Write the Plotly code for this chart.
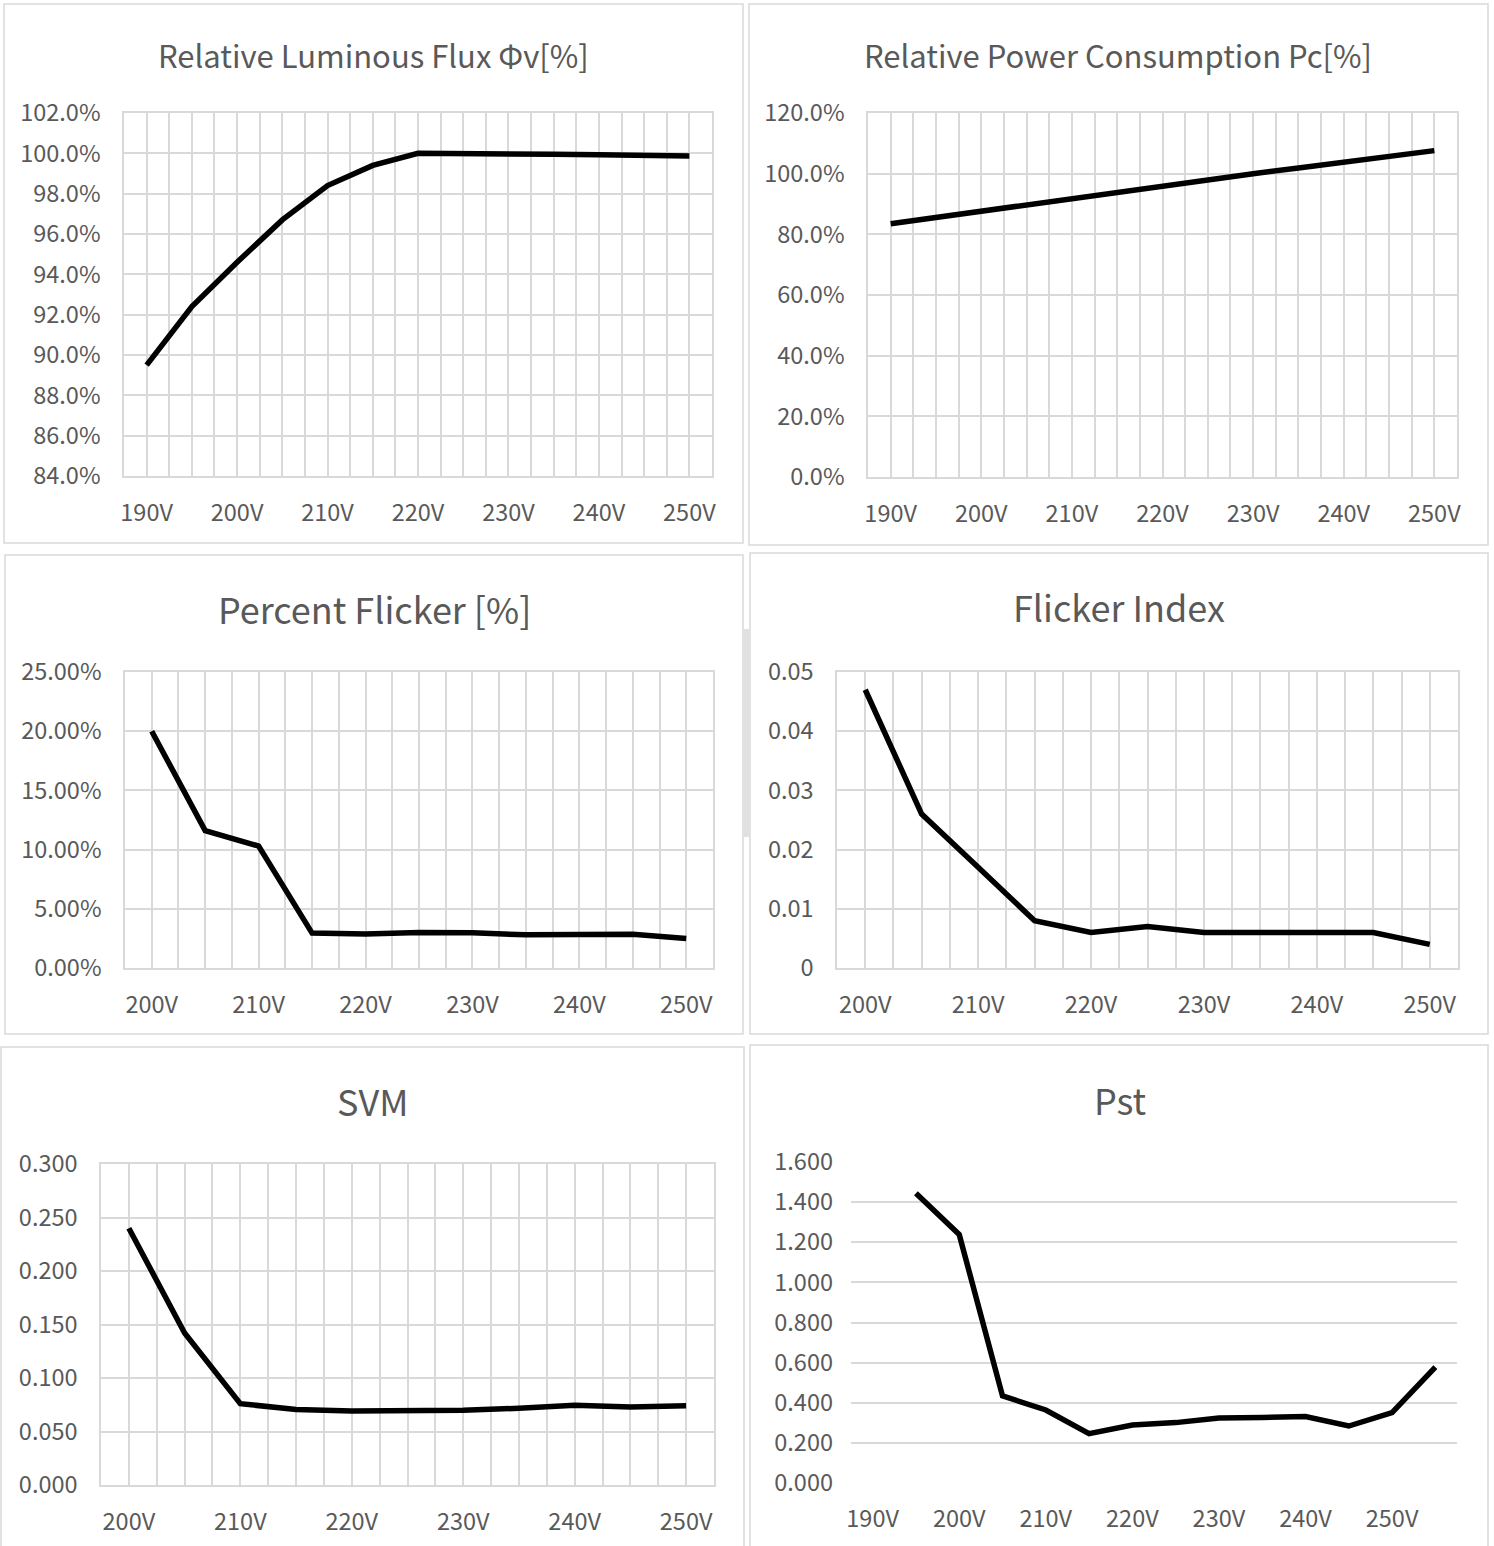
import plotly.graph_objects as go

# ---------------- data ----------------
volts_190_250 = [190, 195, 200, 205, 210, 215, 220, 225, 230, 235, 240, 245, 250]
volts_200_250 = [200, 205, 210, 215, 220, 225, 230, 235, 240, 245, 250]
volts_pst = [195, 200, 205, 210, 215, 220, 225, 230, 235, 240, 245, 250, 255]

tick_190_250 = [190, 200, 210, 220, 230, 240, 250]
tick_200_250 = [200, 210, 220, 230, 240, 250]
tick_labels_190 = ["190V", "200V", "210V", "220V", "230V", "240V", "250V"]
tick_labels_200 = ["200V", "210V", "220V", "230V", "240V", "250V"]

luminous_flux = [89.5, 92.4, 94.6, 96.7, 98.4, 99.4, 100.0, 100.0, 100.0, 99.95, 99.93, 99.87, 99.87]
power_consumption = [83.5, 85.6, 87.6, 89.7, 91.7, 93.7, 95.8, 97.9, 100.0, 101.9, 103.8, 105.7, 107.6]
percent_flicker = [20.0, 11.6, 10.3, 2.95, 2.87, 3.0, 2.98, 2.8, 2.82, 2.85, 2.5]
flicker_index = [0.047, 0.026, 0.017, 0.008, 0.006, 0.007, 0.006, 0.006, 0.006, 0.006, 0.004]
svm = [0.240, 0.142, 0.076, 0.0705, 0.0692, 0.0692, 0.0698, 0.0717, 0.0745, 0.0730, 0.0740]
pst = [1.444, 1.239, 0.434, 0.364, 0.246, 0.289, 0.301, 0.324, 0.327, 0.331, 0.284, 0.351, 0.578]

titles = ["Relative Luminous Flux \u03a6v[%]", "Relative Power Consumption Pc[%]",
          "Percent Flicker [%]", "Flicker Index", "SVM", "Pst"]

# ---------------- styling ----------------
W, H = 1494, 1546
FONT = "Noto Sans CJK KR, Noto Sans, sans-serif"
TXT = "#595959"
GRID = "#d9d9d9"
TICK_SIZE = 23.5


def fx(x):
    return x / W


def fy(y):
    return 1 - y / H


# plot areas in pixels: (left, right, top, bottom)
areas = [
    (124, 712, 113, 476),
    (868, 1457, 113, 477),
    (125, 713, 672, 968),
    (837, 1458, 672, 968),
    (101, 714, 1164, 1485),
    (851, 1457, 1162, 1483),
]
# panel boxes
boxes = [
    (4, 743, 4, 543),
    (749, 1488, 4, 545),
    (5, 743, 555, 1034),
    (750, 1488, 553, 1034),
    (1, 744, 1047, 1560),
    (750, 1488, 1045, 1560),
]
title_pos = [(373, 54, 31), (1118, 54, 31), (374, 608, 36), (1119, 606, 36), (372, 1100, 36), (1120, 1099, 36)]

series = [
    (volts_190_250, luminous_flux),
    (volts_190_250, power_consumption),
    (volts_200_250, percent_flicker),
    (volts_200_250, flicker_index),
    (volts_200_250, svm),
    (volts_pst, pst),
]
xranges = [(187.5, 252.5), (187.5, 252.5), (197.5, 252.5), (197.5, 252.5), (197.5, 252.5), (187.5, 257.5)]
xticks = [(tick_190_250, tick_labels_190), (tick_190_250, tick_labels_190),
          (tick_200_250, tick_labels_200), (tick_200_250, tick_labels_200),
          (tick_200_250, tick_labels_200), (tick_190_250, tick_labels_190)]
xstandoff = [15, 15, 15, 15, 15, 19]
yaxes_cfg = [
    dict(range=[84, 102], dtick=2, tickformat=".1f", ticksuffix="%"),
    dict(range=[0, 120], dtick=20, tickformat=".1f", ticksuffix="%"),
    dict(range=[0, 25], dtick=5, tickformat=".2f", ticksuffix="%"),
    dict(range=[0, 0.05], dtick=0.01),
    dict(range=[0, 0.3], dtick=0.05, tickformat=".3f"),
    dict(range=[0, 1.6], dtick=0.2, tickformat=".3f"),
]

fig = go.Figure()
layout = dict(
    width=W, height=H, autosize=False,
    margin=dict(l=0, r=0, t=0, b=0, pad=0, autoexpand=False),
    paper_bgcolor="white", plot_bgcolor="white", showlegend=False,
    font=dict(family=FONT, color=TXT, size=TICK_SIZE),
)
shapes = []
annotations = []

for i in range(6):
    n = "" if i == 0 else str(i + 1)
    xa, ya = "x" + n, "y" + n
    xs, ys = series[i]
    fig.add_trace(go.Scatter(x=xs, y=ys, mode="lines", xaxis=xa, yaxis=ya,
                             line=dict(color="black", width=5.5), hoverinfo="skip"))
    l, r, t, b = areas[i]
    is_pst = (i == 5)
    layout["xaxis" + n] = dict(
        domain=[fx(l), fx(r)], anchor=ya, range=list(xranges[i]), automargin=False,
        tickmode="array", tickvals=xticks[i][0], ticktext=xticks[i][1],
        showgrid=not is_pst, gridcolor=GRID, gridwidth=1.5,
        minor=dict(showgrid=not is_pst, dtick=2.5, tick0=xranges[i][0], gridcolor=GRID, gridwidth=1.5),
        showline=not is_pst, mirror=True, linecolor=GRID, linewidth=1.5,
        zeroline=False, ticks="", ticklabelstandoff=xstandoff[i],
        tickfont=dict(size=TICK_SIZE, color=TXT, family=FONT), fixedrange=True,
    )
    ycfg = yaxes_cfg[i]
    layout["yaxis" + n] = dict(
        domain=[fy(b), fy(t)], anchor=xa, tickmode="linear", tick0=0, automargin=False,
        showgrid=True, gridcolor=GRID, gridwidth=1.5,
        showline=not is_pst, mirror=True, linecolor=GRID, linewidth=1.5,
        zeroline=False, ticks="", ticklabelstandoff=17,
        tickfont=dict(size=TICK_SIZE, color=TXT, family=FONT), fixedrange=True,
        **ycfg,
    )
    bl, br, bt, bb = boxes[i]
    shapes.append(dict(type="rect", xref="paper", yref="paper",
                       x0=fx(bl), x1=fx(br), y0=fy(bb), y1=fy(bt),
                       line=dict(color=GRID, width=1.5), fillcolor="rgba(0,0,0,0)", layer="below"))
    tx, ty, ts = title_pos[i]
    annotations.append(dict(text=titles[i], xref="paper", yref="paper", x=fx(tx), y=fy(ty),
                            xanchor="center", yanchor="middle", showarrow=False,
                            font=dict(size=ts, color=TXT, family=FONT)))

# faint scrollbar strip between the middle panels
shapes.append(dict(type="rect", xref="paper", yref="paper", x0=fx(743), x1=fx(749),
                   y0=fy(837), y1=fy(629), line=dict(width=0), fillcolor="#e0e0e0", layer="below"))

layout["shapes"] = shapes
layout["annotations"] = annotations
fig.update_layout(**layout)
fig.write_html("out.html", config={"displayModeBar": False},
               post_script="document.body.style.margin='0';document.body.style.overflow='hidden';")
